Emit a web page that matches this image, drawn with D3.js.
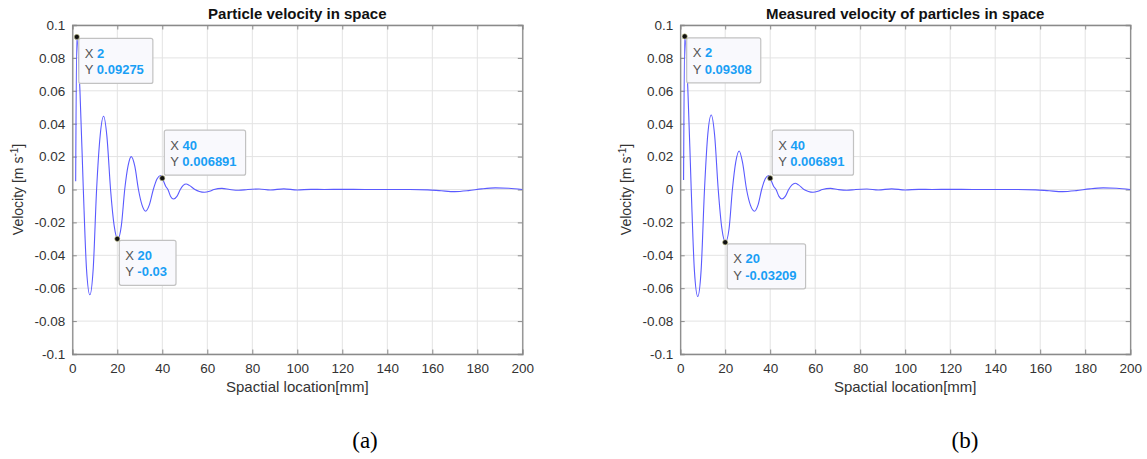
<!DOCTYPE html>
<html>
<head>
<meta charset="utf-8">
<script src="https://cdn.jsdelivr.net/npm/d3@7"></script>
<style>
  html, body { margin: 0; padding: 0; background: #fff; }
  svg { display: block; }
</style>
</head>
<body>
<svg id="chart" width="1147" height="459"></svg>
<script>
// ---------------- DATA ----------------
const xTicks = [0, 20, 40, 60, 80, 100, 120, 140, 160, 180, 200];
const yTicks = [-0.1, -0.08, -0.06, -0.04, -0.02, 0, 0.02, 0.04, 0.06, 0.08, 0.1];
const yTickLabels = ["-0.1", "-0.08", "-0.06", "-0.04", "-0.02", "0", "0.02", "0.04", "0.06", "0.08", "0.1"];

const titles = ["Particle velocity in space", "Measured velocity of particles in space"];
const captions = ["(a)", "(b)"];
const xLabel = "Spactial location[mm]";

// Panel (a) – particle velocity
const locA = [1.5, 2, 3.4, 4.9, 6.3, 7.8, 9.3, 10.8, 12.4, 13.9, 15.4, 17, 18.6, 20.2, 21.8, 23.3, 24.8, 26.2, 27.8, 29.4, 31, 32.6, 34.2, 36, 37.7, 39.2, 40, 41.5, 42.5, 43.7, 45, 46.5, 48, 49.3, 50.6, 52, 54.5, 56.5, 58.7, 61, 63, 66.5, 70, 74, 78, 83, 88, 94, 100, 106, 112, 120, 130, 140, 150, 158, 164, 170, 176, 182, 188, 194, 200];
const velA = [0.005, 0.09275, 0.06, 0, -0.048, -0.064, -0.048, 0, 0.033, 0.0445, 0.032, 0, -0.022, -0.0302, -0.022, 0, 0.0145, 0.020, 0.014, 0, -0.0095, -0.0132, -0.0095, 0, 0.0065, 0.0085, 0.006891, 0.002, 0, -0.0042, -0.0058, -0.0042, 0, 0.0025, 0.0033, 0.0025, 0, -0.0012, -0.0017, -0.0011, 0, 0.0007, 0, -0.0005, 0, 0.0003, -0.0003, 0.0004, -0.0003, 0.0001, 0, 0.0001, 0, 0, 0, -0.0002, -0.0008, -0.0013, -0.0007, 0.0004, 0.0010, 0.0008, 0];

// Panel (b) – measured velocity
const locB = [1.5, 2, 3.4, 4.9, 6.3, 7.8, 9.3, 10.8, 12.3, 13.8, 15.3, 16.9, 18.5, 20.1, 21.7, 23.2, 24.7, 26.2, 27.7, 29.5, 31.2, 33, 34.6, 36.2, 37.8, 39.3, 40, 41.5, 42.6, 43.9, 45.2, 46.7, 48.2, 49.7, 51.1, 52.6, 55, 57, 59, 61.2, 63.2, 66.8, 70, 74, 78, 83, 88, 94, 100, 106, 112, 120, 130, 140, 150, 158, 164, 170, 176, 182, 188, 194, 200];
const velB = [0.0058, 0.09308, 0.061, 0, -0.049, -0.065, -0.049, 0, 0.034, 0.0453, 0.033, 0, -0.0235, -0.03209, -0.024, 0, 0.0168, 0.0234, 0.0165, 0, -0.0095, -0.0132, -0.0093, 0, 0.0065, 0.0085, 0.006891, 0.002, 0, -0.0042, -0.0058, -0.0042, 0, 0.0028, 0.0038, 0.0028, 0, -0.0012, -0.0017, -0.0011, 0, 0.0007, 0, -0.0005, 0, 0.0003, -0.0003, 0.0004, -0.0003, 0.0001, 0, 0.0001, 0, 0, 0, -0.0002, -0.0008, -0.0013, -0.0007, 0.0004, 0.0010, 0.0008, 0];

// Data tips: [x, y, label string for y]
const tipsA = [[2, 0.09275, "0.09275"], [20, -0.03, "-0.03"], [40, 0.006891, "0.006891"]];
const tipsB = [[2, 0.09308, "0.09308"], [20, -0.03209, "-0.03209"], [40, 0.006891, "0.006891"]];

// ---------------- DRAWING ----------------
const svg = d3.select("#chart");
const FONT = "'Liberation Sans', Arial, Helvetica, sans-serif";

const panels = [
  { left: 72.3, loc: locA, vel: velA, tips: tipsA, title: titles[0], caption: captions[0], capX: 365 },
  { left: 680.2, loc: locB, vel: velB, tips: tipsB, title: titles[1], caption: captions[1], capX: 965 }
];
const plotW = 450, plotTop = 25, plotBottom = 354;

panels.forEach(p => {
  const g = svg.append("g");
  const x = d3.scaleLinear().domain([0, 200]).range([p.left, p.left + plotW]);
  const y = d3.scaleLinear().domain([-0.1, 0.1]).range([plotBottom, plotTop]);

  // grid
  g.append("g").selectAll("line").data(xTicks).join("line")
    .attr("x1", d => x(d)).attr("x2", d => x(d)).attr("y1", plotTop).attr("y2", plotBottom)
    .attr("stroke", "#e3e3e3").attr("stroke-width", 1);
  g.append("g").selectAll("line").data(yTicks).join("line")
    .attr("y1", d => y(d)).attr("y2", d => y(d)).attr("x1", x(0)).attr("x2", x(200))
    .attr("stroke", "#e3e3e3").attr("stroke-width", 1);

  // axes (inward ticks on all four sides)
  const tickLen = 4.5;
  const axB = d3.axisBottom(x).tickValues(xTicks).tickSize(-tickLen).tickPadding(9).tickFormat(d3.format("d"));
  const axT = d3.axisTop(x).tickValues(xTicks).tickSize(-tickLen).tickFormat("");
  const axL = d3.axisLeft(y).tickValues(yTicks).tickSize(-tickLen).tickPadding(7)
    .tickFormat((d, i) => yTickLabels[i]);
  const axR = d3.axisRight(y).tickValues(yTicks).tickSize(-tickLen).tickFormat("");

  const styleAxis = sel => {
    sel.selectAll("path").attr("stroke", "#8a8a8a").attr("stroke-width", 1.3);
    sel.selectAll("line").attr("stroke", "#8a8a8a").attr("stroke-width", 1);
    sel.selectAll("text").attr("fill", "#333").style("font-family", FONT).style("font-size", "13.5px");
  };
  g.append("g").attr("transform", `translate(0,${plotBottom})`).call(axB).call(styleAxis);
  g.append("g").attr("transform", `translate(0,${plotTop})`).call(axT).call(styleAxis);
  g.append("g").attr("transform", `translate(${x(0)},0)`).call(axL).call(styleAxis);
  g.append("g").attr("transform", `translate(${x(200)},0)`).call(axR).call(styleAxis);

  // line
  const data = p.loc.map((v, i) => [v, p.vel[i]]);
  const line = d3.line().x(d => x(d[0])).y(d => y(d[1])).curve(d3.curveMonotoneX);
  g.append("path").datum(data).attr("d", line)
    .attr("fill", "none").attr("stroke", "#5a5aff").attr("stroke-width", 1.1);

  // title
  g.append("text").attr("x", x(100)).attr("y", 19).attr("text-anchor", "middle")
    .style("font-family", FONT).style("font-size", "15px").style("font-weight", "bold")
    .attr("fill", "#111").text(p.title);

  // x label
  g.append("text").attr("x", x(100)).attr("y", 391.5).attr("text-anchor", "middle")
    .style("font-family", FONT).style("font-size", "15px").attr("fill", "#333").text(xLabel);

  // y label
  const yl = g.append("text")
    .attr("transform", `translate(${p.left - 49},${(plotTop + plotBottom) / 2}) rotate(-90)`)
    .attr("text-anchor", "middle")
    .style("font-family", FONT).style("font-size", "14px").attr("fill", "#333");
  yl.append("tspan").text("Velocity [m s");
  yl.append("tspan").attr("dy", -5).style("font-size", "10px").text("-1");
  yl.append("tspan").attr("dy", 5).text("]");

  // caption
  svg.append("text").attr("x", p.capX).attr("y", 448).attr("text-anchor", "middle")
    .style("font-family", "'Liberation Serif', 'Times New Roman', serif").style("font-size", "23px")
    .attr("fill", "#000").text(p.caption);

  // data tips
  p.tips.forEach(t => {
    const px = x(t[0]), py = y(t[1]);
    const above = t[0] === 40;
    const tg = g.append("g");
    const rect = tg.append("rect").attr("rx", 2).attr("ry", 2)
      .attr("fill", "#f9f9fd").attr("stroke", "#c2c2c2").attr("stroke-width", 1.2);
    const rowX = tg.append("text").style("font-family", FONT).style("font-size", "13px");
    rowX.append("tspan").attr("fill", "#555").text("X ");
    rowX.append("tspan").attr("fill", "#1a9ff5").style("font-weight", "bold").text(String(t[0]));
    const rowY = tg.append("text").style("font-family", FONT).style("font-size", "13px");
    rowY.append("tspan").attr("fill", "#555").text("Y ");
    rowY.append("tspan").attr("fill", "#1a9ff5").style("font-weight", "bold").text(t[2]);
    const w = Math.max(rowX.node().getComputedTextLength(), rowY.node().getComputedTextLength()) + 15;
    const h = 45;
    const bx = px + 2, by = above ? py - 3 - h : py + 1.5;
    rect.attr("x", bx).attr("y", by).attr("width", w).attr("height", h);
    rowX.attr("x", bx + 6).attr("y", by + 19.5);
    rowY.attr("x", bx + 6).attr("y", by + 36);
    tg.append("circle").attr("cx", px).attr("cy", py).attr("r", 2.6)
      .attr("fill", "#111").attr("stroke", "#d8d8a0").attr("stroke-width", 0.6);
  });
});
</script>
</body>
</html>
